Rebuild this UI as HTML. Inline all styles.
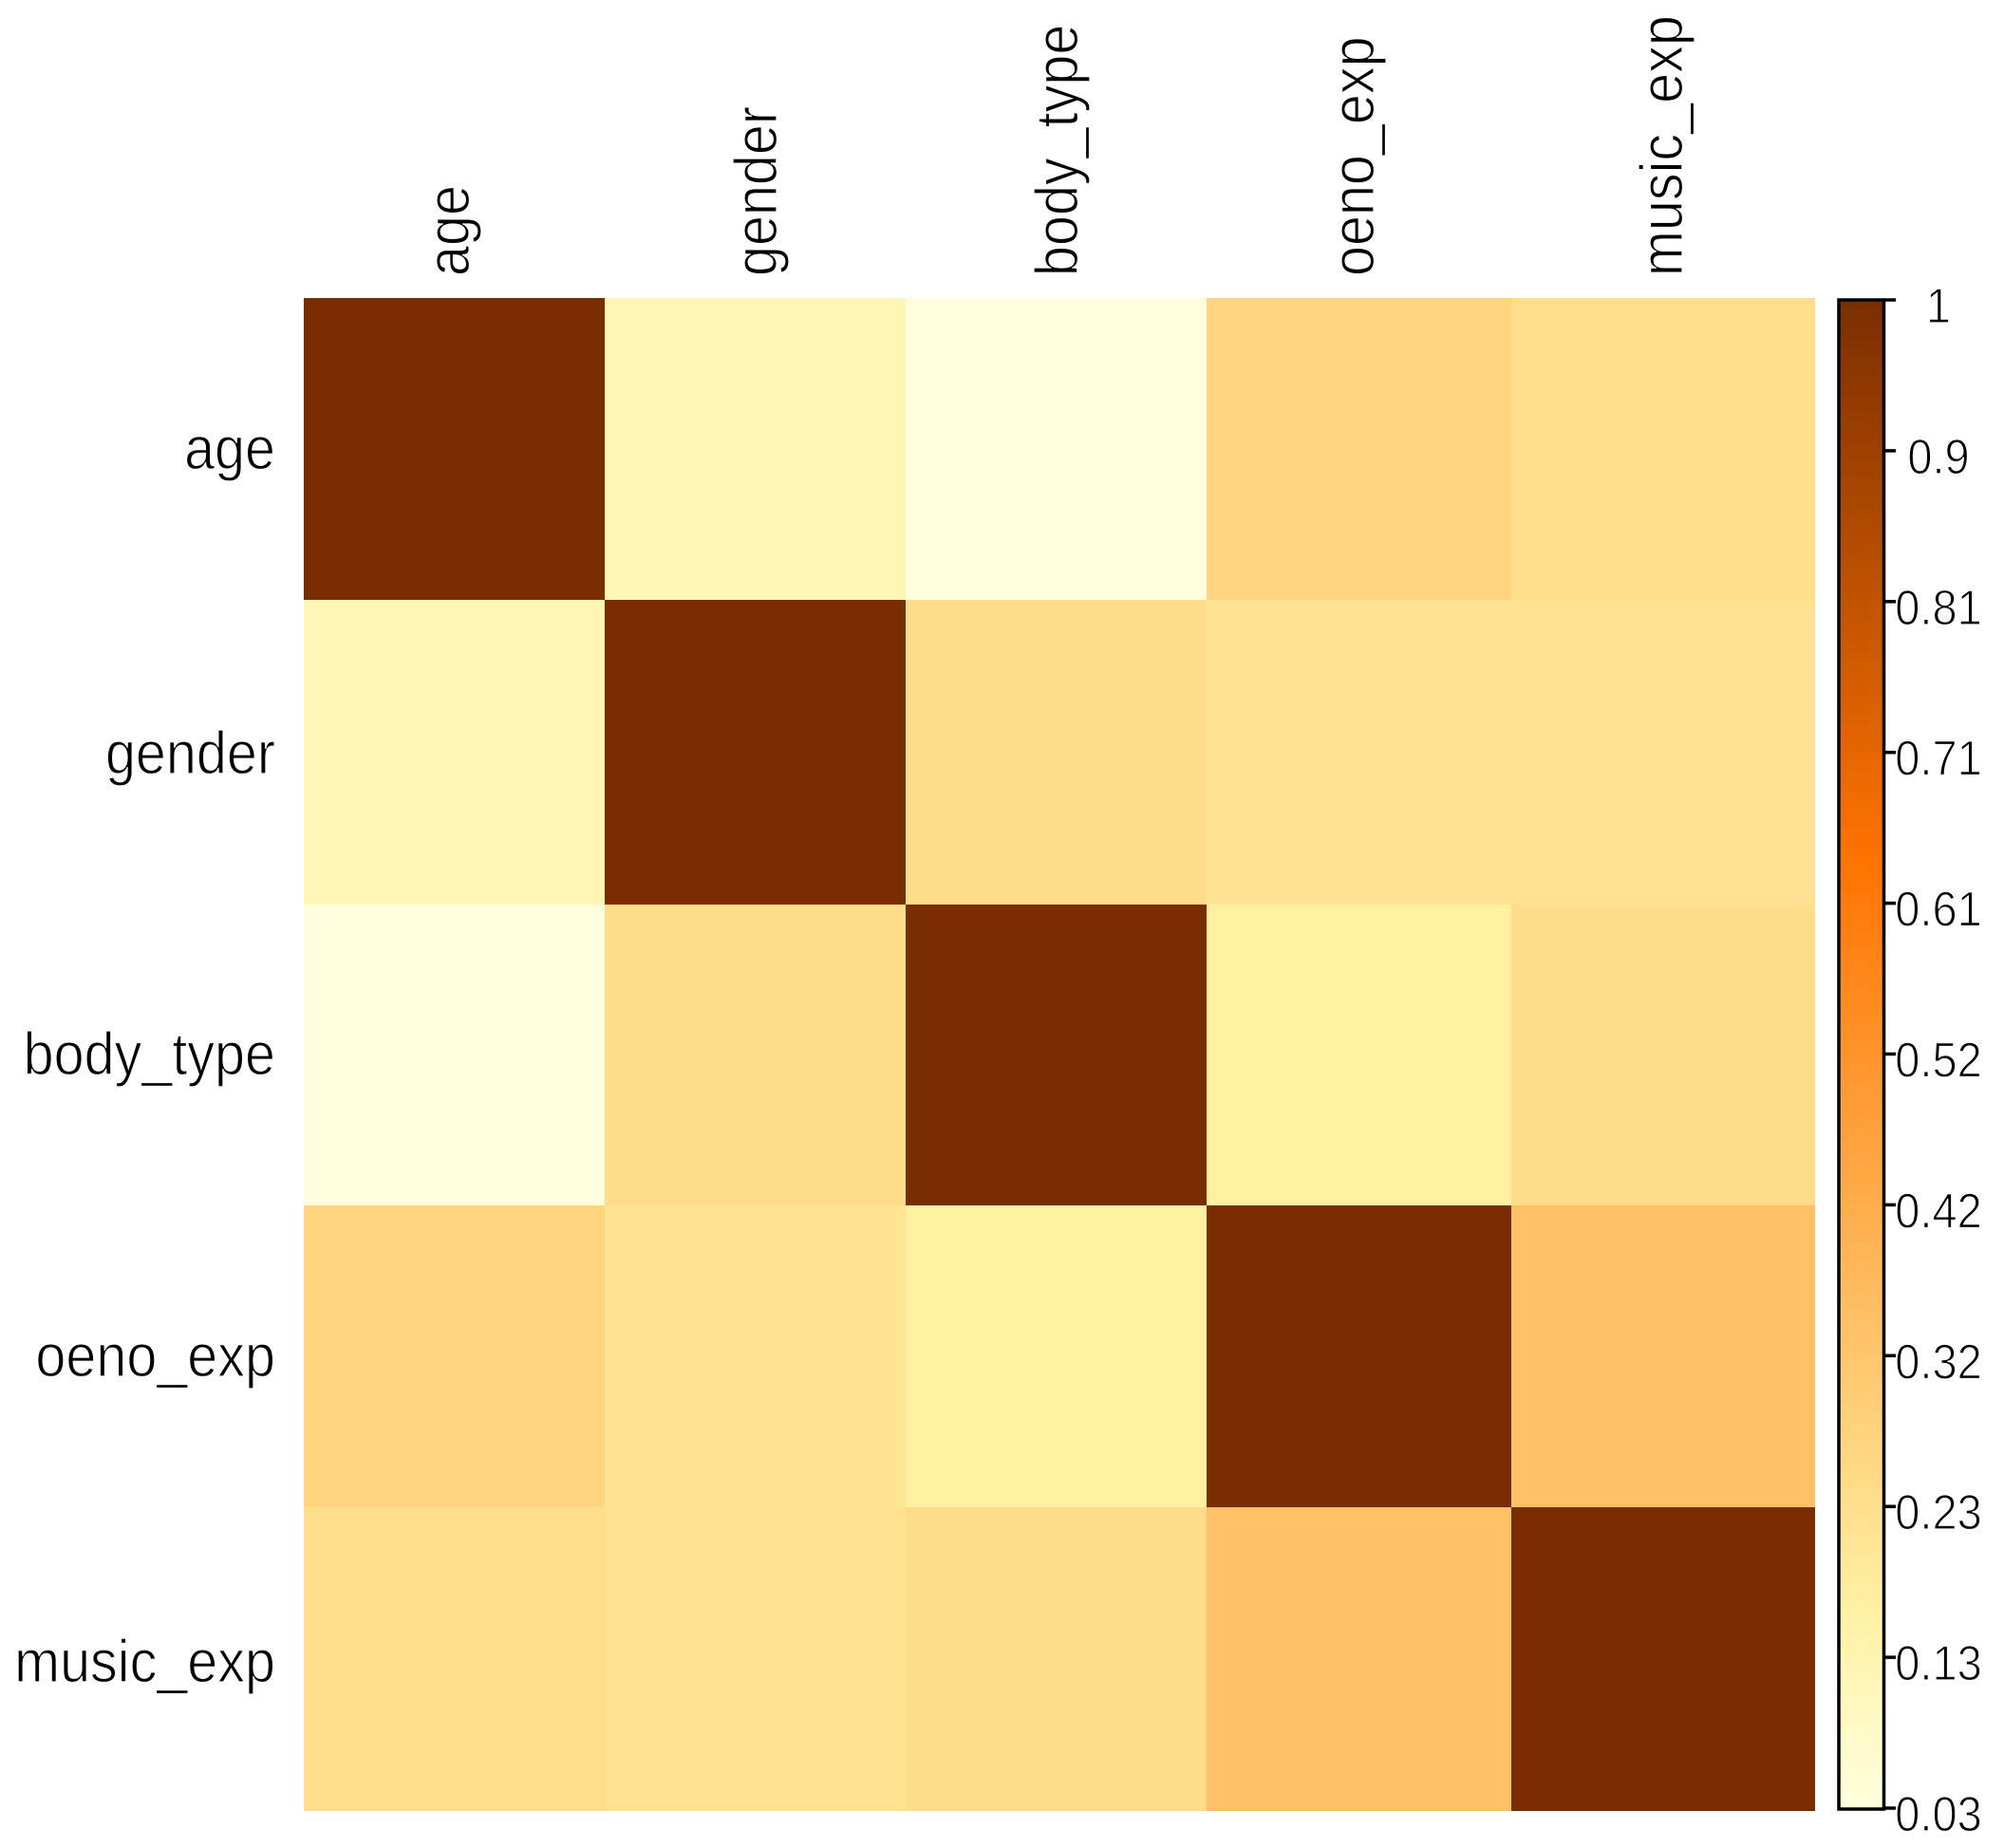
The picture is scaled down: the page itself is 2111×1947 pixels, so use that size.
<!DOCTYPE html>
<html lang="en">
<head>
<meta charset="utf-8">
<title>Correlation heatmap</title>
<style>
  html, body { margin: 0; padding: 0; background: #ffffff; }
  body { width: 2111px; height: 1947px; overflow: hidden; }
  svg { display: block; }
  text { font-family: "Liberation Sans", Arial, sans-serif; fill: #000000; stroke: #ffffff; stroke-width: 1.1px; }
</style>
</head>
<body>
<svg id="chart" xmlns="http://www.w3.org/2000/svg" width="2111" height="1947" viewBox="0 0 2111 1947">
  <rect x="0" y="0" width="2111" height="1947" fill="#ffffff"/>
  <g id="cells" shape-rendering="crispEdges"></g>
  <g id="row-labels"></g>
  <g id="col-labels"></g>
  <g id="colorbar"></g>
</svg>
<script>
const categories = ["age", "gender", "body_type", "oeno_exp", "music_exp"];
const rowAge = [1, 0.12, 0.03, 0.265, 0.23];
const rowGender = [0.12, 1, 0.237, 0.205, 0.218];
const rowBodyType = [0.03, 0.237, 1, 0.165, 0.235];
const rowOenoExp = [0.265, 0.205, 0.165, 1, 0.344];
const rowMusicExp = [0.23, 0.218, 0.235, 0.344, 1];
const matrix = [rowAge, rowGender, rowBodyType, rowOenoExp, rowMusicExp];
const tickValues = [1, 0.903, 0.806, 0.709, 0.612, 0.515, 0.418, 0.321, 0.224, 0.127, 0.03];
const tickLabels = ["1", "0.9", "0.81", "0.71", "0.61", "0.52", "0.42", "0.32", "0.23", "0.13", "0.03"];
const rampValues = [0.03, 0.16, 0.64, 1];
const rampReds = [255, 255, 255, 122];
const rampGreens = [255, 240, 115, 46];
const rampBlues = [221, 163, 0, 0];

const SVG_NS = "http://www.w3.org/2000/svg";

function lerpRamp(channel, v) {
  const clamped = Math.max(rampValues[0], Math.min(rampValues[rampValues.length - 1], v));
  let i = 0;
  while (i < rampValues.length - 2 && clamped > rampValues[i + 1]) i++;
  const t = (clamped - rampValues[i]) / (rampValues[i + 1] - rampValues[i]);
  return Math.round(channel[i] + (channel[i + 1] - channel[i]) * t);
}

function colorOf(v) {
  return "rgb(" + lerpRamp(rampReds, v) + "," + lerpRamp(rampGreens, v) + "," + lerpRamp(rampBlues, v) + ")";
}

function colorbarY(v) {
  const top = 316, bottom = 1905, hi = 1, lo = 0.03;
  return top + (hi - v) / (hi - lo) * (bottom - top);
}

function make(tag, attrs, parent) {
  const el = document.createElementNS(SVG_NS, tag);
  Object.keys(attrs).forEach(function (k) { el.setAttribute(k, attrs[k]); });
  parent.appendChild(el);
  return el;
}

function drawHeatmap() {
  const xEdge = [320, 637, 954, 1271, 1592, 1912];
  const yEdge = [314, 632, 953, 1270, 1588, 1908];
  const group = document.getElementById("cells");
  matrix.forEach(function (row, r) {
    row.forEach(function (value, c) {
      const cell = make("rect", {
        x: xEdge[c], y: yEdge[r],
        width: xEdge[c + 1] - xEdge[c], height: yEdge[r + 1] - yEdge[r],
        fill: colorOf(value)
      }, group);
      
      
    });
  });
}

function drawCategoryLabels() {
  const rowBaseline = [494, 815, 1132, 1450, 1772];
  const colBaseline = [494, 818, 1135, 1447, 1772];
  const rowGroup = document.getElementById("row-labels");
  const colGroup = document.getElementById("col-labels");
  categories.forEach(function (name, i) {
    const rowLabel = make("text", {
      transform: "translate(290," + rowBaseline[i] + ") scale(1,1.1)",
      "text-anchor": "end", "font-size": 57.5
    }, rowGroup);
    rowLabel.textContent = name;
    
    

    const colLabel = make("text", {
      transform: "translate(" + colBaseline[i] + ",291) rotate(-90) scale(1,1.1)",
      "text-anchor": "start", "font-size": 57.5
    }, colGroup);
    colLabel.textContent = name;
    
    
  });
}

function drawColorbar() {
  const group = document.getElementById("colorbar");
  const left = 1937, right = 1984.5, steps = 160;
  const hi = rampValues[rampValues.length - 1], lo = rampValues[0];
  const ramp = make("g", { "shape-rendering": "crispEdges" }, group);
  
  
  for (let s = 0; s < steps; s++) {
    const vTop = hi - (hi - lo) * s / steps;
    const vBottom = hi - (hi - lo) * (s + 1) / steps;
    const band = make("rect", {
      x: left, y: colorbarY(vTop), width: right - left,
      height: colorbarY(vBottom) - colorbarY(vTop) + 1,
      fill: colorOf((vTop + vBottom) / 2)
    }, ramp);
    
    
  }
  const frame = make("rect", {
    x: left, y: 316, width: right - left, height: 1590,
    fill: "none", stroke: "#000000", "stroke-width": 3.5
  }, group);
  
  

  tickValues.forEach(function (value, i) {
    const y = colorbarY(value);
    const tick = make("line", {
      x1: right, x2: 1997, y1: y, y2: y,
      stroke: "#000000", "stroke-width": 3.5
    }, group);
    
    

    const label = make("text", {
      transform: "translate(2042," + (y + 24) + ") scale(1,1.1)",
      "text-anchor": "middle", "font-size": 47
    }, group);
    label.textContent = tickLabels[i];
    
    
  });
}

drawHeatmap();
drawCategoryLabels();
drawColorbar();
</script>
</body>
</html>
